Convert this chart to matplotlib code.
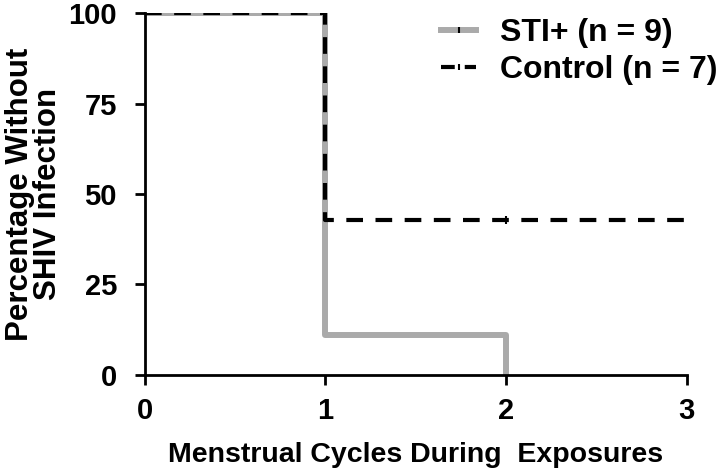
import matplotlib
matplotlib.use('Agg')
import matplotlib.pyplot as plt
from matplotlib.lines import Line2D

plt.rcParams['font.family'] = ['Liberation Sans', 'DejaVu Sans']
plt.rcParams['font.weight'] = 'bold'

# survival data (percent without infection per menstrual cycle)
sti_cycles = [0, 1, 2]
sti_pct = [100, 11.1, 0]
ctrl_cycles = [0, 1, 3]
ctrl_pct = [100, 42.9, 42.9]
ctrl_censor_x = [2]
ctrl_censor_y = [42.9]
labels = ['STI+ (n = 9)', 'Control (n = 7)']

fig = plt.figure(figsize=(7.2, 4.72), dpi=100)
ax = fig.add_axes([0.201, 0.206, 0.753, 0.766])

ax.step(sti_cycles, sti_pct, where='post', color='#aaaaaa', lw=4.3,
        zorder=2)
ax.step(ctrl_cycles, ctrl_pct, where='post', color='black', lw=3.0,
        dashes=(4.0, 3.0), zorder=3)
ax.plot(ctrl_censor_x, ctrl_censor_y, ls='none', marker='|', ms=6,
        mew=1.5, color='black', zorder=4)

ax.set_xlim(0, 3)
ax.set_ylim(0, 100)
ax.set_xticks([0, 1, 2, 3])
ax.set_yticks([0, 25, 50, 75, 100])
for s in ['top', 'right']:
    ax.spines[s].set_visible(False)
for s in ['left', 'bottom']:
    ax.spines[s].set_linewidth(2)
ax.tick_params(direction='out', length=7, width=2, labelsize=21)
ax.tick_params(axis='y', pad=13)
ax.tick_params(axis='x', pad=9)

ax.set_xlabel('Menstrual Cycles During  Exposures', fontsize=20.5,
              fontweight='bold', labelpad=12)
ax.set_ylabel('Percentage Without\nSHIV Infection', fontsize=22.5,
              fontweight='bold', linespacing=0.95)
ax.yaxis.set_label_coords(-0.15, 0.5)

handles = [
    Line2D([], [], color='#aaaaaa', lw=4.3, marker='|', ms=5, mew=1.5,
           mec='black'),
    Line2D([], [], color='black', lw=3.0, dashes=(3.3, 2.4), marker='|',
           ms=5, mew=1.5, mec='black'),
]
ax.legend(handles, labels, loc='upper right', bbox_to_anchor=(1.11, 1.065),
          frameon=False, fontsize=23, handlelength=1.1, handletextpad=0.75,
          labelspacing=0.2, numpoints=1)

fig.savefig('out.png', dpi=100)
